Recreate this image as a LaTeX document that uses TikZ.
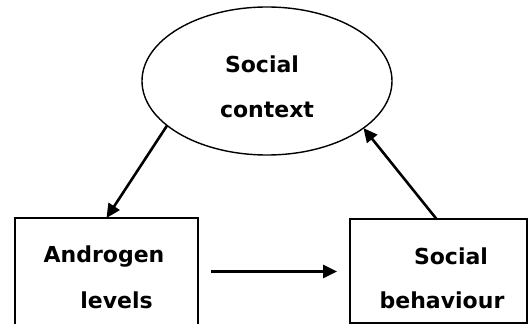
\documentclass[tikz,border=0pt]{standalone}
\usepackage{fontspec}
\setmainfont{DejaVu Sans}
\usetikzlibrary{shapes.geometric,arrows.meta,calc}
\tikzset{
  lbl/.style={font=\fontsize{22}{24}\selectfont\bfseries, anchor=base, inner sep=0pt},
  boxshape/.style={draw, line width=1.4pt, rectangle, inner sep=0pt, outer sep=0pt},
  arr/.style={line width=2.6pt, -{Triangle[length=14pt,width=13pt]}}
}
\begin{document}
\begin{tikzpicture}[x=1pt,y=1pt]
\useasboundingbox (0,0) rectangle (528,324);
\node[draw, ellipse, line width=1.4pt, minimum width=250pt, minimum height=148pt, inner sep=0pt, outer sep=0pt] (ell) at (267,243) {};
\node[boxshape, minimum width=183pt, minimum height=109pt] (lbox) at (106.5,51.5) {};
\node[boxshape, minimum width=177pt, minimum height=104pt] (rbox) at (438.5,53) {};
\node[lbl] (t1) at (262,251) {Social};
\node[lbl] (t2) at (267,206) {context};
\node[lbl] (t3) at (104,61) {Androgen};
\node[lbl] (t4) at (116.5,15) {levels};
\node[lbl] (t5) at (451,59) {Social};
\node[lbl] (t6) at (442,15) {behaviour};
\draw[arr] (ell.204.5) -- (lbox.north);
\draw[arr] ([xshift=-2pt]rbox.north) -- (ell.334);
\draw[arr] ([xshift=13pt,yshift=1pt]lbox.east) -- ([xshift=-13pt,yshift=-0.5pt]rbox.west);
\end{tikzpicture}
\end{document}
